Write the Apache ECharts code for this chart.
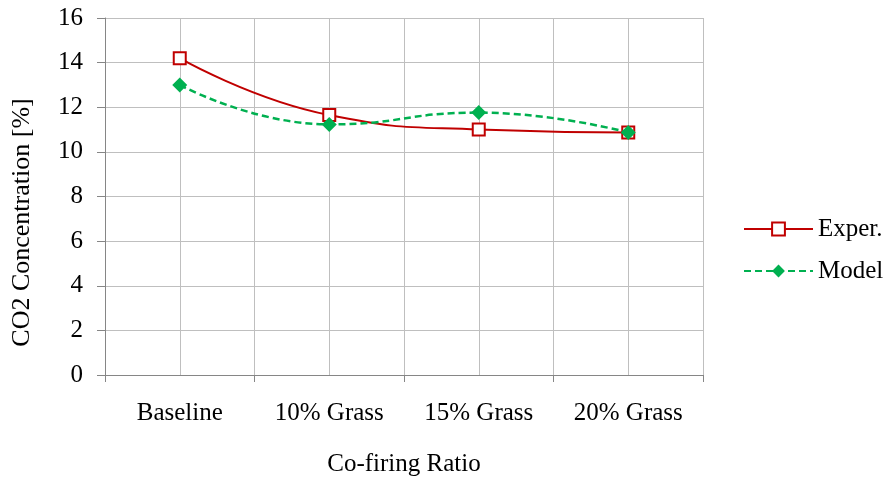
<!DOCTYPE html>
<html>
<head>
<meta charset="utf-8">
<script src="https://cdn.jsdelivr.net/npm/echarts@6/dist/echarts.min.js"></script>
<style>
  html, body { margin: 0; padding: 0; background: #fff; }
  #chart { width: 893px; height: 482px; }
</style>
</head>
<body>
<div id="chart"></div>
<script>
// Co-firing ratio categories and measured / modelled CO2 concentrations
const categories = ['Baseline', '10% Grass', '15% Grass', '20% Grass'];
const experValues = [14.2, 11.65, 11.0, 10.87];
const modelValues = [13.0, 11.23, 11.76, 10.87];
const yTicks = { min: 0, max: 16, interval: 2 };

const serif = 'Liberation Serif, Times New Roman, serif';
const gridColor = '#BFBFBF';
const axisColor = '#868686';
const labelSize = 25;

const chart = echarts.init(document.getElementById('chart'), null, { renderer: 'canvas' });

chart.setOption({
  animation: false,
  backgroundColor: '#ffffff',
  grid: { left: 105, right: 190, top: 18, bottom: 104, containLabel: false },
  legend: {
    orient: 'vertical',
    left: 743,
    top: 215,
    padding: 0,
    itemWidth: 69,
    itemHeight: 16,
    itemGap: 14,
    textStyle: { fontFamily: serif, fontSize: labelSize, color: '#000', lineHeight: 28 },
    data: ['Exper.', 'Model']
  },
  xAxis: [
    {
      type: 'category',
      data: categories,
      boundaryGap: true,
      name: 'Co-firing Ratio',
      nameLocation: 'middle',
      nameGap: 77,
      nameTextStyle: { fontFamily: serif, fontSize: labelSize, color: '#000' },
      axisLine: { lineStyle: { color: axisColor, width: 1 } },
      axisTick: { show: true, length: 7, alignWithLabel: false, lineStyle: { color: axisColor } },
      axisLabel: { fontFamily: serif, fontSize: labelSize, color: '#000', margin: 26 },
      splitLine: { show: true, lineStyle: { color: gridColor, width: 1 } }
    },
    {
      // extra grid lines through each category centre
      type: 'value',
      min: 0,
      max: 8,
      interval: 1,
      show: true,
      position: 'bottom',
      axisLine: { show: false },
      axisTick: { show: false },
      axisLabel: { show: false },
      splitLine: { show: true, lineStyle: { color: gridColor, width: 1 } }
    }
  ],
  yAxis: {
    type: 'value',
    min: yTicks.min,
    max: yTicks.max,
    interval: yTicks.interval,
    name: 'CO2 Concentration [%]',
    nameLocation: 'middle',
    nameGap: 70,
    nameRotate: 90,
    nameTextStyle: { fontFamily: serif, fontSize: 26, color: '#000', padding: [0, 52, 0, 0] },
    axisLine: { show: true, lineStyle: { color: axisColor, width: 1 } },
    axisTick: { show: true, length: 8, inside: false, lineStyle: { color: axisColor } },
    axisLabel: { fontFamily: serif, fontSize: labelSize, color: '#000', margin: 22 },
    splitLine: { show: true, lineStyle: { color: gridColor, width: 1 } }
  },
  series: [
    {
      name: 'Exper.',
      type: 'line',
      xAxisIndex: 0,
      data: experValues,
      smooth: 0.5,
      symbol: 'rect',
      symbolSize: 12,
      itemStyle: { color: '#ffffff', borderColor: '#C00000', borderWidth: 2 },
      lineStyle: { color: '#C00000', width: 2 },
      z: 3
    },
    {
      name: 'Model',
      type: 'line',
      xAxisIndex: 0,
      data: modelValues,
      smooth: 0.5,
      symbol: 'diamond',
      symbolSize: 15,
      itemStyle: { color: '#00B050', borderColor: '#00B050', borderWidth: 0 },
      lineStyle: { color: '#00B050', width: 2.5, type: [7, 4] },
      z: 4
    }
  ]
});
</script>
</body>
</html>
